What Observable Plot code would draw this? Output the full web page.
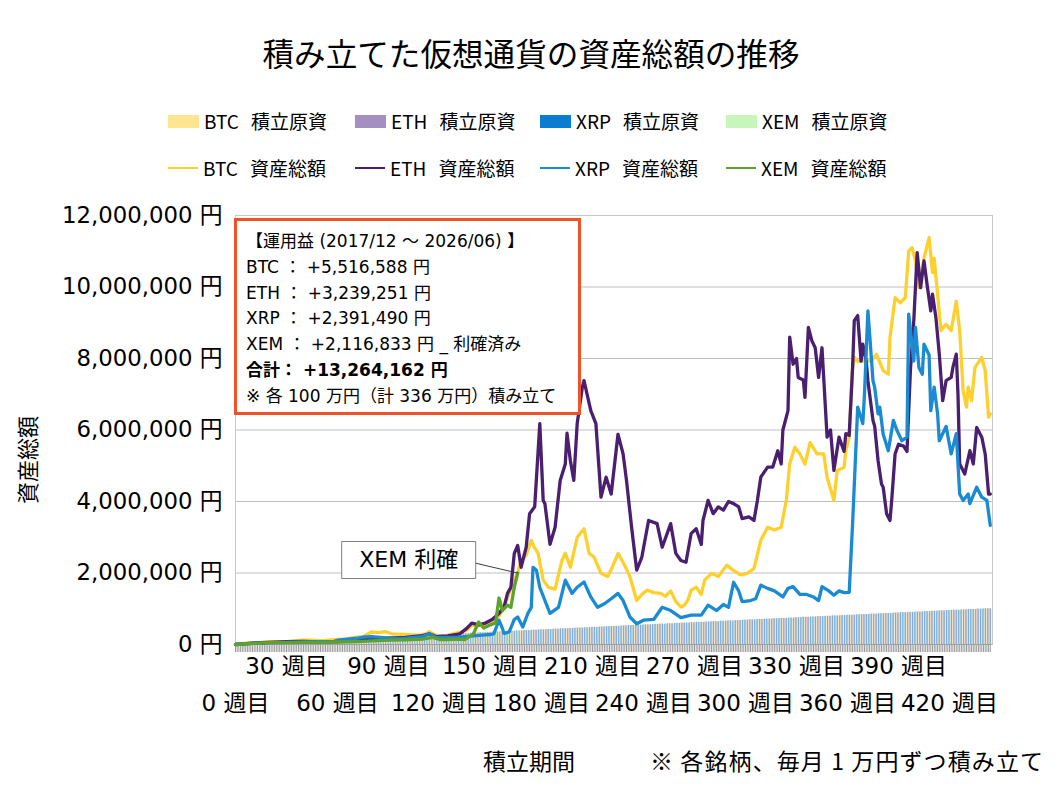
<!DOCTYPE html>
<html><head><meta charset="utf-8">
<script src="https://cdn.jsdelivr.net/npm/d3@7"></script>
<script src="https://cdn.jsdelivr.net/npm/@observablehq/plot@0.6"></script>
<style>
body{margin:0;background:#fff;}
#wrap{position:relative;width:1058px;height:794px;overflow:hidden;font-family:"Noto Sans CJK JP",sans-serif;color:#000;background:#fff;}
#title{position:absolute;left:0;top:32px;width:1062px;text-align:center;font-size:31.6px;line-height:40px;}
.leg{position:absolute;display:flex;align-items:center;font-size:19px;line-height:24px;white-space:nowrap;}
.leg .sw{display:inline-block;width:31px;height:13px;}
.leg .ln{display:inline-block;width:30px;height:2px;}
.leg .nm{margin-left:5px;margin-right:12px;}
#chart{position:absolute;left:0;top:190px;}
#ylabel{position:absolute;left:-24px;top:446px;width:100px;text-align:center;font-size:22px;line-height:28px;transform:rotate(-90deg);}
#xlabel{position:absolute;left:483px;top:746px;font-size:23px;line-height:28px;}
#note{position:absolute;left:650px;top:746px;font-size:23px;line-height:28px;white-space:pre;letter-spacing:1.1px;}
#box{position:absolute;left:234px;top:218px;width:332px;height:183px;border:3px solid #f0522a;background:#fff;padding:8px 0 0 9px;box-sizing:content-box;font-family:"DejaVu Sans","Noto Sans CJK JP",sans-serif;font-size:17px;line-height:25.8px;white-space:pre;}
#box b{font-weight:bold;}
</style></head><body>
<div id="wrap">
  <div id="title">積み立てた仮想通貨の資産総額の推移</div>
  <div id="legend"></div>
  <div id="chart"></div>
  <div id="ylabel">資産総額</div>
  <div id="xlabel">積立期間</div>
  <div id="note">※ 各銘柄、毎月 1 万円ずつ積み立て</div>
  <div id="box"></div>
</div>
<script>
// ---- data (values in millions of yen) ----
const coins = ["BTC", "ETH", "XRP", "XEM"];
const costColors = ["#ffe592", "#a490c0", "#0b7dd0", "#c8f5ba"];
const lineColors = ["#fdd02e", "#4a1f70", "#1a8bd2", "#5fa12e"];

const btcWeeks = [0,5,10,15,20,25,30,35,40,45,50,55,60,65,70,75,80,84,88,92,96,100,104,108,112,114,117,120,124,128,133,136,139,143,147,151,155,157,160,163,166,168,171,174,176,178,181,184,188,192,194,197,201,205,208,211,215,219,222,225,228,232,236,239,242,246,250,253,256,259,262,264,266,268,271,274,276,280,284,289,292,297,301,305,309,313,317,321,324,326,329,332,335,338,342,346,348,352,354,358,359,361,362,363,364,366,370,374,377,381,384,385,388,391,394,396,398,400,402,405,408,410,411,415,418,421,424,426,428,430,431,433,435,439,441,443,444];
const btcValues = [0,0.03,0.05,0.06,0.08,0.07,0.08,0.1,0.12,0.12,0.1,0.12,0.14,0.16,0.2,0.22,0.35,0.33,0.36,0.3,0.29,0.28,0.27,0.26,0.3,0.36,0.28,0.22,0.25,0.3,0.35,0.4,0.54,0.52,0.55,0.6,0.8,0.96,1.3,1.7,2.0,2.35,2.5,2.91,2.7,2.55,1.8,1.6,1.55,2.35,2.55,2.16,3.0,3.24,2.55,2.44,1.99,1.9,2.2,2.55,2.3,1.9,1.23,1.4,1.52,1.45,1.43,1.35,1.5,1.2,1.05,1.1,1.23,1.52,1.6,1.4,1.8,1.99,1.9,2.22,2.1,1.95,1.99,2.12,2.91,3.28,3.2,3.28,4.03,5.05,5.52,5.33,5.05,5.65,5.33,5.33,4.68,4.03,4.87,4.96,5.42,5.8,6.82,7.75,8.03,7.93,7.93,7.93,8.12,7.66,7.56,8.58,9.7,9.56,9.7,11.0,11.1,10.73,9.98,10.8,11.38,10.4,10.8,8.78,8.96,8.78,9.6,8.78,7.1,6.64,7.2,6.82,7.75,8.03,7.66,6.36,6.45];

const ethWeeks = [0,10,20,30,40,50,60,70,80,90,100,110,114,118,125,132,136,139,143,147,151,155,158,160,162,164,166,168,171,173,176,179,181,182,185,188,191,194,195,197,199,201,204,205,209,212,215,218,221,225,228,230,233,236,239,243,248,251,256,259,262,265,268,271,274,275,278,281,284,287,290,293,296,298,302,305,307,309,313,316,319,321,322,325,326,328,330,331,334,335,337,339,341,343,345,348,350,352,355,358,359,361,363,364,366,368,369,371,372,375,376,378,380,381,383,385,386,388,390,393,395,397,399,401,403,405,407,409,410,412,414,416,418,421,422,424,425,426,429,432,434,436,439,441,443,444];
const ethValues = [0,0.04,0.06,0.08,0.09,0.07,0.08,0.12,0.15,0.18,0.2,0.25,0.3,0.22,0.24,0.3,0.45,0.6,0.55,0.6,0.7,0.87,1.05,1.43,1.6,2.55,2.77,2.16,2.72,3.66,3.85,6.18,4.03,3.94,2.8,3.28,4.59,5.05,5.91,5.14,4.59,6.18,7.19,7.38,6.54,6.18,4.12,4.68,4.21,5.88,5.33,4.59,3.28,2.08,2.44,3.47,3.38,2.72,3.38,2.55,2.35,2.3,3.1,3.24,2.8,3.47,4.03,3.66,3.85,3.76,4.0,3.94,3.85,3.52,3.57,3.47,4.03,4.68,4.96,4.96,5.42,5.05,6.0,6.54,8.6,7.84,8.0,7.47,7.4,6.91,8.87,8.5,8.3,7.47,8.3,5.8,6.0,4.87,5.8,5.4,5.9,5.85,7.75,9.06,9.2,7.93,8.4,7.93,7.38,6.27,6.1,5.14,4.49,4.4,3.66,3.47,4.03,5.33,5.6,5.55,5.4,7.66,9.06,10.96,9.98,10.73,10.0,9.33,9.8,9.15,8.12,6.82,7.38,7.47,7.75,8.12,7.0,5.05,4.77,5.42,5.05,6.07,5.8,5.33,4.21,4.21];

const xrpWeeks = [0,10,20,30,40,50,58,60,66,72,76,80,85,90,95,100,105,110,114,118,124,130,135,140,145,150,152,155,157,158,161,164,166,169,172,174,175,177,179,182,185,190,194,198,201,205,209,213,217,221,225,228,232,236,240,246,251,256,262,268,274,278,283,287,290,293,296,298,303,306,309,313,317,322,325,328,332,336,340,343,345,349,352,355,358,361,363,366,369,370,372,373,375,376,378,379,381,384,387,389,392,395,396,399,400,402,404,405,408,409,411,413,414,418,421,424,426,428,431,432,436,439,442,444];
const xrpValues = [0,0.03,0.05,0.06,0.07,0.08,0.09,0.12,0.15,0.18,0.21,0.22,0.2,0.18,0.17,0.18,0.2,0.22,0.3,0.2,0.2,0.2,0.22,0.24,0.26,0.28,0.3,0.68,0.45,0.31,0.35,0.7,0.77,0.49,0.87,1.04,2.16,2.08,1.6,1.23,0.87,1.04,1.8,1.43,1.6,1.75,1.33,1.04,1.14,1.28,1.43,1.23,0.77,0.58,0.68,0.7,1.04,0.95,0.75,0.82,0.82,1.1,0.95,1.12,1.04,1.74,1.5,1.2,1.23,1.28,1.66,1.57,1.5,1.33,1.57,1.62,1.4,1.4,1.33,1.23,1.62,1.5,1.38,1.5,1.45,1.46,3.38,6.64,6.18,7.0,9.33,8.7,7.38,7.19,6.45,6.64,5.88,5.42,6.27,6.0,5.7,5.8,9.24,7.93,8.87,7.75,7.56,8.4,8.1,6.54,7.2,6.45,5.7,6.1,5.33,5.9,4.21,4.03,4.21,3.94,4.4,4.12,4.03,3.33];

const xemWeeks = [0,10,20,30,40,50,60,70,80,90,100,110,116,120,125,130,135,140,143,146,150,153,155,157,160,162,164,166];
const xemValues = [0,0.03,0.05,0.05,0.06,0.06,0.07,0.08,0.1,0.12,0.13,0.15,0.2,0.14,0.14,0.15,0.14,0.3,0.63,0.46,0.55,0.6,1.3,0.95,1.1,1.04,1.6,2.0];

// cumulative contributions (万円) per month of saving
const costMan = [1,2,3,4,5,6,7,8,9,10,11,12,13,14,15,16,17,18,19,20,21,22,23,24,25,26,27,28,29,30,31,32,33,34,35,36,37,38,39,40,41,42,43,44,45,46,47,48,49,50,51,52,53,54,55,56,57,58,59,60,61,62,63,64,65,66,67,68,69,70,71,72,73,74,75,76,77,78,79,80,81,82,83,84,85,86,87,88,89,90,91,92,93,94,95,96,97,98,99,100];
const xemCostMan = [1,2,3,4,5,6,7,8,9,10,11,12,13,14,15,16,17,18,19,20,21,22,23,24,25,26,27,28,29,30,31,32,33,34,35,36];
const weeksPerMonth = 4.44;
const lastWeek = 444;

const yTicks = [0, 2000000, 4000000, 6000000, 8000000, 10000000, 12000000];
const xTicksTop = [30, 90, 150, 210, 270, 330, 390];
const xTicksBottom = [0, 60, 120, 180, 240, 300, 360, 420];

const boxLines = [
  "【運用益 (2017/12 ～ 2026/06) 】",
  "BTC ： +5,516,588 円",
  "ETH ： +3,239,251 円",
  "XRP ： +2,391,490 円",
  "XEM ： +2,116,833 円 _ 利確済み",
  "<b>合計： +13,264,162 円</b>",
  "※ 各 100 万円（計 336 万円）積み立て"
];

// ---- tables built from the arrays ----
const toRows = (weeks, vals) => weeks.map((w, i) => ({week: w, value: vals[i] * 1e6}));
const series = [
  toRows(btcWeeks, btcValues),
  toRows(ethWeeks, ethValues),
  toRows(xrpWeeks, xrpValues),
  toRows(xemWeeks, xemValues)
];
const xemEnd = series[3][series[3].length - 1];

const costRows = [];
for (let w = 0; w <= lastWeek; w++) {
  const m = Math.floor(w / weeksPerMonth);
  coins.forEach((c, k) => {
    let v;
    if (c === "XEM") {
      if (w > xemEnd.week) return;
      v = xemCostMan[Math.min(m, xemCostMan.length - 1)];
    } else {
      v = costMan[Math.min(m, costMan.length - 1)];
    }
    costRows.push({coin: c, k, x1: w + k * 0.25, x2: w + (k + 1) * 0.25, value: v * 1e4});
  });
}

// ---- legend ----
const legend = document.getElementById("legend");
const legX = [168, 355, 540, 726];
coins.forEach((c, i) => {
  const a = document.createElement("div");
  a.className = "leg";
  a.style.left = legX[i] + "px"; a.style.top = "109px";
  a.innerHTML = `<span class="sw" style="background:${costColors[i]}"></span><span class="nm">${c}</span><span>積立原資</span>`;
  legend.appendChild(a);
  const b = document.createElement("div");
  b.className = "leg";
  b.style.left = legX[i] + "px"; b.style.top = "156px";
  b.innerHTML = `<span class="ln" style="background:${lineColors[i]}"></span><span class="nm">${c}</span><span>資産総額</span>`;
  legend.appendChild(b);
});
document.getElementById("box").innerHTML = boxLines.join("\n");

// ---- chart ----
const rectSymbol = {draw(ctx) { ctx.rect(-67, -18.5, 134, 37); }};
const lineShape = {draw(ctx, l) { ctx.moveTo(0, 0); ctx.lineTo(0, -l); }};
const fmt = d3.format(",");

const marks = [
  Plot.gridY(yTicks, {stroke: "#bfbfbf", strokeOpacity: 1}),
  Plot.rectY(costRows, {x1: "x1", x2: "x2", y: "value", fill: d => costColors[d.k]}),
  Plot.frame({stroke: "#c8c8c8"}),
  Plot.ruleY([0], {stroke: "#a6a6a6"}),
  Plot.axisX({ticks: d3.range(0, lastWeek + 1), tickSize: 8, tickFormat: () => "", stroke: "#9a9a9a", label: null}),
  Plot.axisY({ticks: yTicks, tickFormat: d => fmt(d) + " 円", tickSize: 0, tickPadding: 13, fontSize: 22.8, label: null}),
  Plot.axisX({ticks: xTicksTop, tickFormat: d => d + " 週目", tickSize: 0, tickPadding: 13, fontSize: 23, label: null}),
  Plot.axisX({ticks: xTicksBottom, tickFormat: d => d + " 週目", tickSize: 0, tickPadding: 50, fontSize: 23, label: null}),
];
series.forEach((rows, i) => {
  marks.push(Plot.line(rows, {x: "week", y: "value", stroke: lineColors[i], strokeWidth: 3.3, strokeLinejoin: "round"}));
});
marks.push(
  Plot.vector([xemEnd], {x: "week", y: "value", length: 44, rotate: 283, anchor: "start", shape: lineShape, stroke: "#404040", strokeWidth: 1}),
  Plot.dot([xemEnd], {x: "week", y: "value", symbol: rectSymbol, dx: -109, dy: -13, fill: "white", stroke: "#7f7f7f", strokeWidth: 1}),
  Plot.text([xemEnd], {x: "week", y: "value", text: () => "XEM 利確", dx: -109, dy: -13, fontSize: 22, fill: "#000"})
);

const chart = Plot.plot({
  width: 1058,
  height: 540,
  marginTop: 25,
  marginBottom: 86,
  marginLeft: 235,
  marginRight: 66,
  x: {domain: [0, 445.3]},
  y: {domain: [0, 12000000]},
  style: {fontSize: "22px", fontFamily: "'DejaVu Sans','Noto Sans CJK JP',sans-serif", color: "#000", background: "transparent", overflow: "visible"},
  marks
});
document.getElementById("chart").appendChild(chart);
</script>
</body></html>
